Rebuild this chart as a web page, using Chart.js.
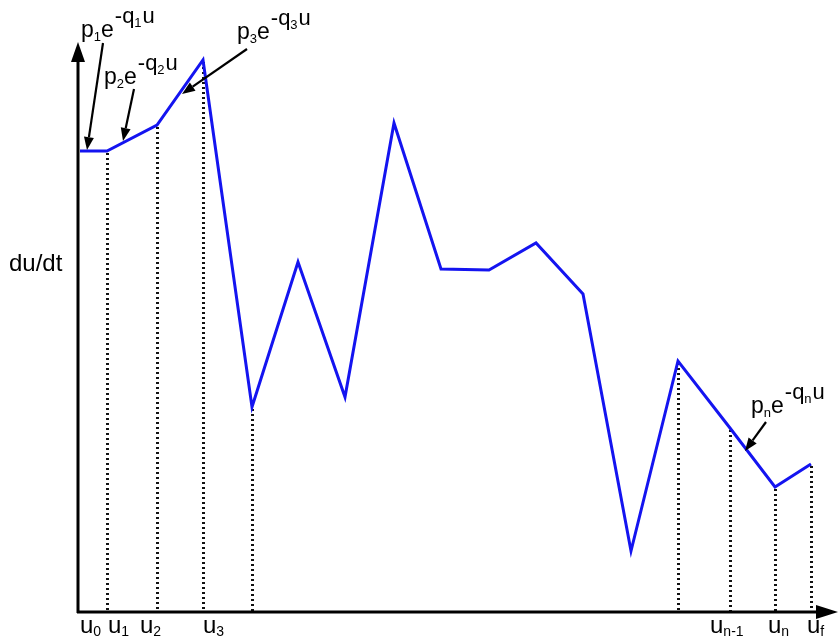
<!DOCTYPE html>
<html>
<head>
<meta charset="utf-8">
<script src="https://cdn.jsdelivr.net/npm/chart.js@4.4.0/dist/chart.umd.min.js"></script>
<style>
  html, body { margin: 0; padding: 0; background: #fff; }
  canvas { display: block; }
</style>
</head>
<body>
<canvas id="rateChart" width="839" height="639"></canvas>
<script>
// ---- data ----
// u positions of the break points (arbitrary units along the u axis)
const uValues    = [2, 29, 79, 125, 174, 220, 267, 316, 363, 411, 458, 505, 553, 600, 652, 697, 733];
// du/dt at each break point
const rateValues = [461, 461, 487, 552, 205, 350, 215, 489, 343, 342, 369, 318, 61, 251, 184, 125, 148];

// which break points get a dotted drop line to the u axis
const dropIndex = [1, 2, 3, 4, 13, 14, 15, 16];

// tick labels on the u axis: point index + subscript of "u"
const tickIndex = [0, 1, 2, 3, 14, 15, 16];
const tickSubs  = ["0", "1", "2", "3", "n-1", "n", "f"];

// exponential segment labels (subscripts)
const segSubs = ["1", "2", "3", "n"];

const AXIS_MAX_U = 757;
const AXIS_MAX_RATE = 567;

const FONT = '"Liberation Sans", Arial, sans-serif';

// draw a run of text pieces with their own size and baseline shift
function drawRich(ctx, x, y, runs) {
  let cx = x;
  runs.forEach(r => {
    ctx.font = r.size + "px " + FONT;
    ctx.fillText(r.t, cx, y + (r.dy || 0));
    cx += ctx.measureText(r.t).width + (r.gap || 0);
  });
}

function expLabel(ctx, x, y, sub) {
  drawRich(ctx, x, y, [
    { t: "p", size: 23 },
    { t: sub, size: 13, dy: 4 },
    { t: "e", size: 23, gap: 1 },
    { t: "-q", size: 22, dy: -14 },
    { t: sub, size: 13, dy: -10, gap: 1 },
    { t: "u", size: 22, dy: -14 }
  ]);
}

function arrow(ctx, x1, y1, x2, y2) {
  const a = Math.atan2(y2 - y1, x2 - x1);
  const len = 13, half = 5;
  const bx = x2 - len * Math.cos(a), by = y2 - len * Math.sin(a);
  ctx.beginPath();
  ctx.moveTo(x1, y1);
  ctx.lineTo(bx, by);
  ctx.lineWidth = 2.2;
  ctx.strokeStyle = "#000";
  ctx.stroke();
  ctx.beginPath();
  ctx.moveTo(x2, y2);
  ctx.lineTo(bx + half * Math.sin(a), by - half * Math.cos(a));
  ctx.lineTo(bx - half * Math.sin(a), by + half * Math.cos(a));
  ctx.closePath();
  ctx.fillStyle = "#000";
  ctx.fill();
}

// ---- plugin: axes, drop lines, labels, annotations ----
const decorPlugin = {
  id: "decor",
  beforeDatasetsDraw(chart) {
    const ctx = chart.ctx;
    const xs = chart.scales.x, ys = chart.scales.y;
    const y0 = ys.getPixelForValue(0);
    ctx.save();
    // dotted drop lines
    ctx.strokeStyle = "#111";
    ctx.lineWidth = 3;
    ctx.setLineDash([2, 3]);
    dropIndex.forEach(i => {
      const px = Math.round(xs.getPixelForValue(uValues[i])) + 0.5;
      ctx.beginPath();
      ctx.moveTo(px, ys.getPixelForValue(rateValues[i]) + 2);
      ctx.lineTo(px, y0);
      ctx.stroke();
    });
    ctx.setLineDash([]);
    ctx.restore();
  },
  afterDatasetsDraw(chart) {
    const ctx = chart.ctx;
    const xs = chart.scales.x, ys = chart.scales.y;
    const x0 = xs.getPixelForValue(0), y0 = ys.getPixelForValue(0);
    const xTop = xs.getPixelForValue(AXIS_MAX_U), yTop = ys.getPixelForValue(AXIS_MAX_RATE);
    ctx.save();
    ctx.fillStyle = "#000";
    ctx.strokeStyle = "#000";
    ctx.lineWidth = 3;
    // y axis with arrow
    ctx.beginPath();
    ctx.moveTo(x0, y0 + 1);
    ctx.lineTo(x0, yTop + 14);
    ctx.stroke();
    ctx.beginPath();
    ctx.moveTo(x0, yTop - 3);
    ctx.lineTo(x0 - 7, yTop + 17);
    ctx.lineTo(x0 + 7, yTop + 17);
    ctx.closePath();
    ctx.fill();
    // x axis with arrow
    ctx.beginPath();
    ctx.moveTo(x0 - 1, y0);
    ctx.lineTo(xTop - 16, y0);
    ctx.stroke();
    ctx.beginPath();
    ctx.moveTo(xTop + 3, y0);
    ctx.lineTo(xTop - 19, y0 - 7);
    ctx.lineTo(xTop - 19, y0 + 7);
    ctx.closePath();
    ctx.fill();

    // axis title
    ctx.textBaseline = "alphabetic";
    ctx.font = "24px " + FONT;
    ctx.fillText("du/dt", 9, 271);

    // u tick labels
    const nudge = [0, 1, -17, 0, -20, -7, -4];
    tickIndex.forEach((idx, k) => {
      const px = xs.getPixelForValue(uValues[idx]) + nudge[k];
      drawRich(ctx, px, 633, [
        { t: "u", size: 24 },
        { t: tickSubs[k], size: 14, dy: 3 }
      ]);
    });

    // exponential segment labels and arrows
    expLabel(ctx, 81, 37, segSubs[0]);
    arrow(ctx, 103, 43, 87, 150);
    expLabel(ctx, 104, 84, segSubs[1]);
    arrow(ctx, 134, 89, 123, 141);
    expLabel(ctx, 237, 39, segSubs[2]);
    arrow(ctx, 247, 49, 182, 94);
    expLabel(ctx, 751, 413, segSubs[3]);
    arrow(ctx, 766, 422, 745, 451);
    ctx.restore();
  }
};

new Chart(document.getElementById("rateChart"), {
  type: "line",
  data: {
    datasets: [{
      data: uValues.map((u, i) => ({ x: u, y: rateValues[i] })),
      borderColor: "rgb(20,20,240)",
      borderWidth: 3,
      pointRadius: 0,
      tension: 0,
      fill: false
    }]
  },
  options: {
    responsive: false,
    animation: false,
    layout: { padding: { left: 78, right: 4, top: 45, bottom: 27 } },
    plugins: { legend: { display: false }, tooltip: { enabled: false } },
    scales: {
      x: { type: "linear", min: 0, max: AXIS_MAX_U, display: false },
      y: { type: "linear", min: 0, max: AXIS_MAX_RATE, display: false }
    }
  },
  plugins: [decorPlugin]
});
</script>
</body>
</html>
